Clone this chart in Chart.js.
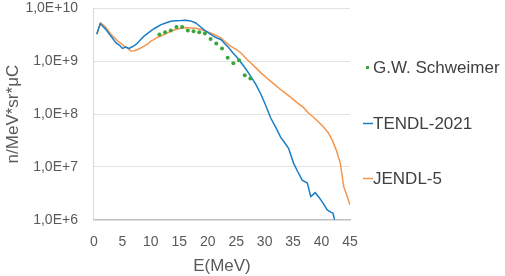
<!DOCTYPE html>
<html>
<head>
<meta charset="utf-8">
<script src="https://cdn.jsdelivr.net/npm/chart.js@4"></script>
<style>
  html, body { margin: 0; padding: 0; background: #fff; }
  #wrap { width: 505px; height: 276px; }
</style>
</head>
<body>
<div id="wrap"><canvas id="c" width="505" height="276"></canvas></div>
<script>
// G.W. Schweimer measurement (points)
const schweimerE = [11.5, 12.5, 13.5, 14.5, 15.5, 16.5, 17.5, 18.5, 19.5, 20.5, 21.5, 22.5, 23.5, 24.5, 25.5, 26.5, 27.5];
const schweimerY = [3.21e9, 3.54e9, 3.81e9, 4.46e9, 4.46e9, 3.81e9, 3.70e9, 3.54e9, 3.35e9, 2.65e9, 2.17e9, 1.75e9, 1.17e9, 9.15e8, 1.05e9, 5.45e8, 4.70e8];

// TENDL-2021
const tendlE = [0.5, 1.1, 2.0, 3.0, 3.9, 4.5, 5.0, 5.6, 6.2, 6.8, 7.4, 8.1, 8.8, 9.5, 10.3, 11.0, 11.8, 12.6, 13.5, 14.4, 15.3, 16.1, 17.0, 17.9, 18.6, 19.3, 20.2, 21.0, 21.6, 22.3, 23.0, 23.7, 24.4, 25.2, 25.8, 26.3, 27.0, 27.5, 28.4, 29.3, 30.2, 31.0, 32.0, 32.8, 33.5, 34.2, 35.1, 35.8, 36.6, 37.5, 38.1, 38.9, 39.5, 40.1, 41.0, 41.6, 42.0, 42.3];
const tendlY = [3.25e9, 5.16e9, 4.1e9, 2.98e9, 2.23e9, 2.0e9, 1.75e9, 1.85e9, 1.75e9, 1.9e9, 2.08e9, 2.5e9, 2.98e9, 3.4e9, 3.98e9, 4.4e9, 4.94e9, 5.3e9, 5.70e9, 5.85e9, 5.88e9, 5.95e9, 5.8e9, 5.30e9, 4.6e9, 3.98e9, 3.4e9, 2.98e9, 2.75e9, 2.58e9, 2.15e9, 1.80e9, 1.45e9, 1.17e9, 9.6e8, 8.15e8, 6.4e8, 5.29e8, 3.74e8, 2.43e8, 1.45e8, 8.7e7, 5.5e7, 3.67e7, 2.9e7, 2.25e7, 1.17e7, 8.2e6, 5.64e6, 4.95e6, 2.74e6, 3.26e6, 2.7e6, 2.21e6, 1.54e6, 1.4e6, 1.34e6, 1.0e6];

// JENDL-5
const jendlE = [0.5, 1.2, 2.0, 3.0, 3.6, 4.2, 4.7, 5.3, 5.9, 6.5, 7.1, 7.7, 8.3, 8.8, 9.4, 10.0, 10.6, 11.2, 11.8, 12.3, 12.9, 13.5, 14.4, 15.3, 16.1, 17.0, 17.9, 18.8, 19.6, 20.5, 21.4, 22.3, 23.1, 24.0, 24.9, 25.8, 26.5, 27.2, 28.2, 29.3, 30.4, 31.6, 33.0, 34.6, 35.7, 36.8, 37.7, 38.6, 39.5, 40.4, 41.2, 41.9, 42.6, 43.3, 43.9, 44.4, 45.0];
const jendlY = [3.29e9, 5.30e9, 4.5e9, 3.21e9, 2.8e9, 2.40e9, 2.2e9, 1.93e9, 1.75e9, 1.56e9, 1.58e9, 1.67e9, 1.8e9, 1.93e9, 2.1e9, 2.40e9, 2.6e9, 2.85e9, 3.0e9, 3.21e9, 3.45e9, 3.70e9, 4.0e9, 4.27e9, 4.35e9, 4.27e9, 4.2e9, 3.98e9, 3.7e9, 3.44e9, 3.1e9, 2.77e9, 2.3e9, 1.93e9, 1.7e9, 1.45e9, 1.2e9, 1.01e9, 8.0e8, 6.10e8, 4.8e8, 3.74e8, 2.8e8, 2.07e8, 1.65e8, 1.34e8, 1.05e8, 8.7e7, 7.0e7, 5.65e7, 4.4e7, 3.18e7, 2.06e7, 1.17e7, 4.22e6, 3.0e6, 1.9e6];

const yTicks = [1e6, 1e7, 1e8, 1e9, 1e10];
const xTicks = [0, 5, 10, 15, 20, 25, 30, 35, 40, 45];

const seriesNames = ["G.W. Schweimer", "TENDL-2021", "JENDL-5"];
const seriesColors = ["#3aa63a", "#1a7ec6", "#f5964f"];

const toXY = (xs, ys) => xs.map((x, i) => ({ x, y: ys[i] }));

// legend drawn by hand: Excel puts it on the right with wide spacing
const sideLegend = {
  id: "sideLegend",
  afterDraw(chart) {
    const { ctx } = chart;
    const rows = [67, 123, 178];
    ctx.save();
    ctx.font = "17px 'Liberation Sans', Arial, sans-serif";
    ctx.textBaseline = "middle";
    rows.forEach((y, i) => {
      ctx.strokeStyle = seriesColors[i];
      ctx.fillStyle = seriesColors[i];
      if (i === 0) {
        ctx.fillRect(366, y - 1, 3, 3);
      } else {
        ctx.lineWidth = 1.5;
        ctx.beginPath();
        ctx.moveTo(363, y + 0.5);
        ctx.lineTo(373, y + 0.5);
        ctx.stroke();
      }
      ctx.fillStyle = "#404040";
      ctx.fillText(seriesNames[i], 373, y + 1);
    });
    ctx.restore();
  },
};

new Chart(document.getElementById("c"), {
  type: "line",
  plugins: [sideLegend],
  data: {
    datasets: [
      {
        label: seriesNames[0],
        data: toXY(schweimerE, schweimerY),
        showLine: false,
        pointRadius: 2,
        pointBackgroundColor: seriesColors[0],
        pointBorderWidth: 0,
        borderColor: seriesColors[0],
      },
      {
        label: seriesNames[1],
        data: toXY(tendlE, tendlY),
        borderColor: seriesColors[1],
        borderWidth: 1.5,
        pointRadius: 0,
        tension: 0,
      },
      {
        label: seriesNames[2],
        data: toXY(jendlE, jendlY),
        borderColor: seriesColors[2],
        borderWidth: 1.5,
        pointRadius: 0,
        tension: 0,
      },
    ],
  },
  options: {
    responsive: false,
    animation: false,
    layout: { padding: { left: 1, right: 155, top: 0, bottom: 1 } },
    plugins: {
      legend: { display: false },
      tooltip: { enabled: false },
    },
    scales: {
      x: {
        type: "linear",
        min: 0,
        max: 45,
        afterBuildTicks: (s) => { s.ticks = xTicks.map((v) => ({ value: v })); },
        grid: { display: false, drawTicks: false },
        border: { display: true, color: "#bfbfbf", width: 1.5 },
        ticks: { padding: 14, color: "#595959", font: { family: "'Liberation Sans'", size: 14 } },
        title: {
          display: true,
          text: "E(MeV)",
          color: "#595959",
          padding: { top: -8, bottom: -2 },
          font: { family: "'Liberation Sans'", size: 17 },
        },
      },
      y: {
        type: "logarithmic",
        min: 1e6,
        max: 1e10,
        afterBuildTicks: (s) => { s.ticks = yTicks.map((v) => ({ value: v })); },
        grid: { color: "#e3e3e3", drawTicks: true, tickLength: 16, tickColor: "rgba(0,0,0,0)" },
        border: { display: true, color: "#d9d9d9" },
        ticks: {
          padding: 0,
          color: "#595959",
          font: { family: "'Liberation Sans'", size: 14 },
          callback: (v) => "1,0E+" + Math.round(Math.log10(v)),
        },
        title: {
          display: true,
          text: "n/MeV*sr*μC",
          color: "#595959",
          padding: { top: 2, bottom: 2 },
          font: { family: "'Liberation Sans'", size: 17 },
        },
      },
    },
  },
});
</script>
</body>
</html>
